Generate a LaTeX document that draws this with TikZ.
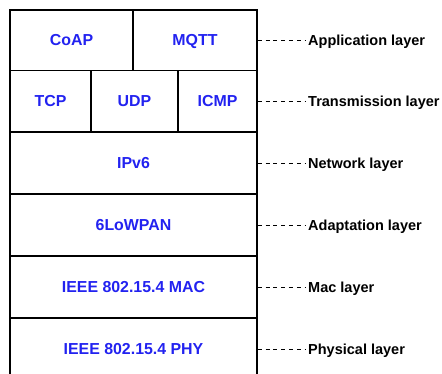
\documentclass[tikz,border=0pt]{standalone}
\usepackage{fontspec}
\setmainfont{Liberation Sans}
\definecolor{layerblue}{RGB}{34,34,240}
\begin{document}
\begin{tikzpicture}[x=1pt,y=-1pt,
  cell/.style={draw=black,line width=1.5pt,rectangle,inner sep=0pt,
    text height=11.5pt,text depth=0pt,
    font=\fontsize{15.9}{18}\selectfont\bfseries,text=layerblue},
  lab/.style={anchor=west,inner sep=0pt,inner xsep=3pt,
    text height=10.4pt,text depth=0pt,
    font=\fontsize{14.5}{17}\selectfont\bfseries,text=black},
  link/.style={draw=black,line width=0.9pt,dash pattern=on 4pt off 3.8pt}]
\useasboundingbox (0,0) rectangle (442,374);
\clip (0,0) rectangle (442,374);
% row 1
\node[cell,minimum width=123pt,minimum height=60.5pt] (coap) at (71.5,40.25) {CoAP};
\node[cell,minimum width=124pt,minimum height=60.5pt] (mqtt) at (195,40.25) {MQTT};
% row 2
\node[cell,minimum width=81pt,minimum height=61.5pt] (tcp) at (50.5,101.25) {TCP};
\node[cell,minimum width=87pt,minimum height=61.5pt] (udp) at (134.5,101.25) {UDP};
\node[cell,minimum width=79pt,minimum height=61.5pt] (icmp) at (217.5,101.25) {ICMP};
% rows 3-6
\node[cell,minimum width=247pt,minimum height=62pt] (ipv6) at (133.5,163) {IPv6};
\node[cell,minimum width=247pt,minimum height=62pt] (lowpan) at (133.5,225) {6LoWPAN};
\node[cell,minimum width=247pt,minimum height=62pt] (mac) at (133.5,287) {IEEE 802.15.4 MAC};
\node[cell,minimum width=247pt,minimum height=62pt] (phy) at (133.5,349) {IEEE 802.15.4 PHY};
% labels
\node[lab] (lapp) at (305,40.25) {Application layer};
\node[lab] (ltrans) at (305,101.25) {Transmission layer};
\node[lab] (lnet) at (305,163) {Network layer};
\node[lab] (ladapt) at (305,225) {Adaptation layer};
\node[lab] (lmac) at (305,287) {Mac layer};
\node[lab] (lphy) at (305,349) {Physical layer};
% connectors
\draw[link] (mqtt.east) -- (lapp.west);
\draw[link] (icmp.east) -- (ltrans.west);
\draw[link] (ipv6.east) -- (lnet.west);
\draw[link] (lowpan.east) -- (ladapt.west);
\draw[link] (mac.east) -- (lmac.west);
\draw[link] (phy.east) -- (lphy.west);
\end{tikzpicture}
\end{document}
